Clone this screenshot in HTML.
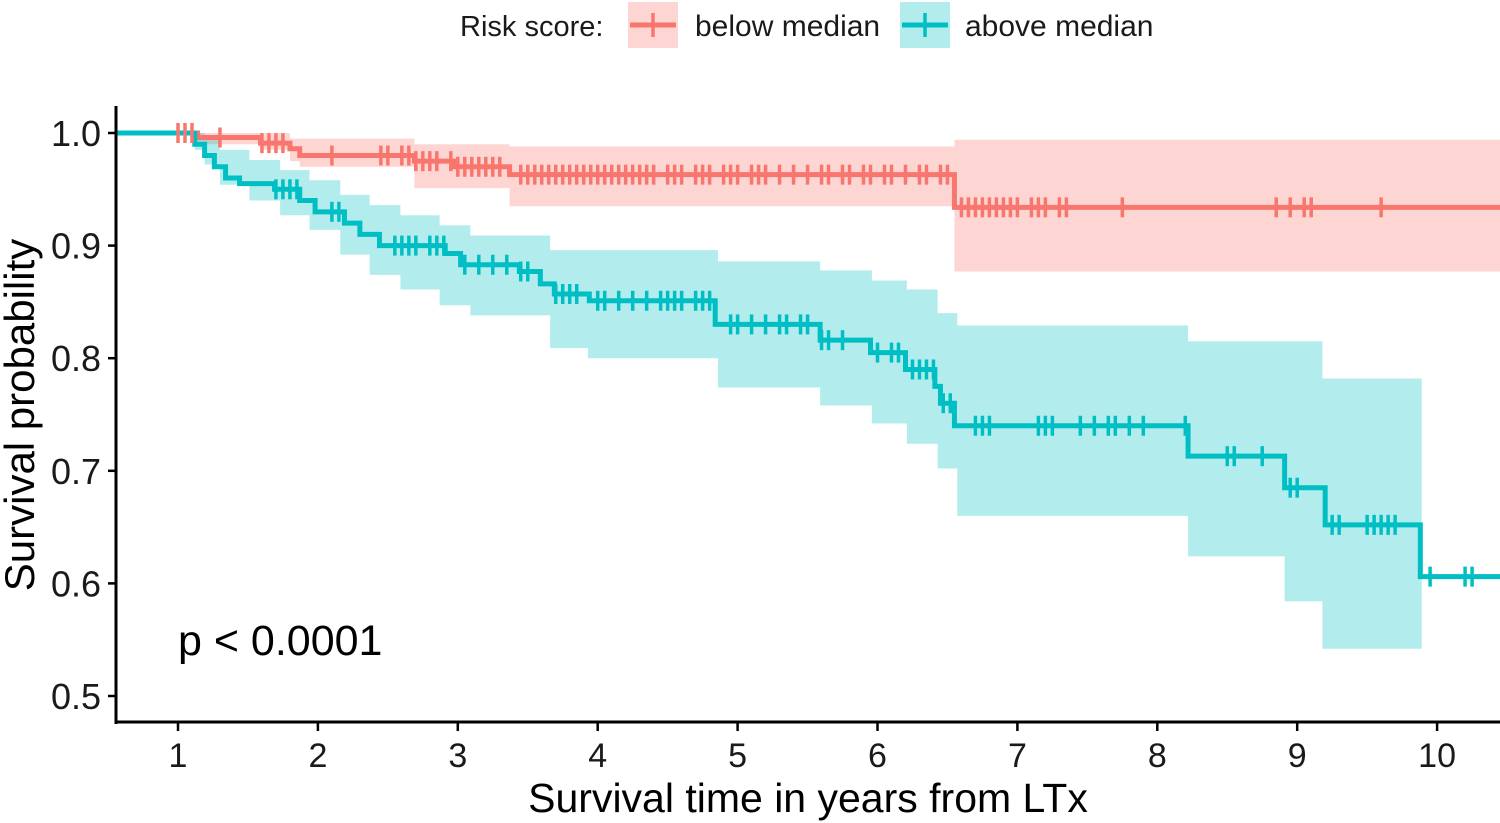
<!DOCTYPE html>
<html><head><meta charset="utf-8"><style>
html,body{margin:0;padding:0;background:#fff;}
svg{display:block;font-family:"Liberation Sans",sans-serif;}
</style></head><body>
<svg id="chart" width="1500" height="823" viewBox="0 0 1500 823">
<g id="bands"></g>
<g id="lines"></g>
<g id="axes"></g>
<g id="legend">
  <text x="460" y="36" font-size="29" fill="#1a1a1a">Risk score:</text>
  <g>
    <rect x="628" y="2" width="50" height="46" fill="#F8766D" fill-opacity="0.3"/>
    <line x1="630" y1="25" x2="676" y2="25" stroke="#F8766D" stroke-width="5"/>
    <line x1="653" y1="13" x2="653" y2="37" stroke="#F8766D" stroke-width="3.5"/>
    <text x="695" y="36" font-size="30" fill="#1a1a1a">below median</text>
  </g>
  <g>
    <rect x="900" y="2" width="50" height="46" fill="#00BFC4" fill-opacity="0.3"/>
    <line x1="902" y1="25" x2="948" y2="25" stroke="#00BFC4" stroke-width="5"/>
    <line x1="925" y1="13" x2="925" y2="37" stroke="#00BFC4" stroke-width="3.5"/>
    <text x="965" y="36" font-size="30" fill="#1a1a1a">above median</text>
  </g>
</g>
<text x="178" y="655" font-size="43" fill="#000">p &lt; 0.0001</text>
<text x="808" y="812" font-size="41" text-anchor="middle" fill="#000">Survival time in years from LTx</text>
<text transform="translate(34,415) rotate(-90)" font-size="42" text-anchor="middle" fill="#000">Survival probability</text>
</svg>
<script>
// ---- data ----
const xTicks = [1,2,3,4,5,6,7,8,9,10];
const yTicks = [0.5,0.6,0.7,0.8,0.9,1.0];
const redTimes = [0, 1.14, 1.59, 1.80, 1.87, 2.69, 2.97, 3.37, 6.55];
const redSurv  = [1.0, 0.996, 0.991, 0.986, 0.98, 0.975, 0.97, 0.963, 0.934];
const redCiTimes = [0, 1.14, 1.59, 1.80, 1.87, 2.69, 3.37, 6.55];
const redUpper = [1.0, 1.0, 1.0, 0.995, 0.995, 0.99, 0.988, 0.994];
const redLower = [1.0, 0.99, 0.985, 0.975, 0.97, 0.951, 0.935, 0.877];
const redCensor = [1.0,1.05,1.1,1.3,1.6,1.65,1.7,1.75,2.1,2.45,2.5,2.6,2.65,2.7,2.75,2.8,2.85,2.95,3.0,3.05,3.1,3.15,3.2,3.25,3.3,
  3.45,3.5,3.55,3.6,3.65,3.7,3.75,3.8,3.85,3.9,3.95,4.0,4.05,4.1,4.15,4.2,4.25,4.3,4.35,4.4,4.5,4.55,4.6,4.7,4.75,4.8,4.9,4.95,5.0,5.1,5.15,5.2,5.3,5.4,5.5,5.6,5.65,5.75,5.8,5.9,5.95,6.05,6.1,6.2,6.3,6.35,6.45,6.5,
  6.6,6.65,6.7,6.75,6.8,6.85,6.9,6.95,7.0,7.1,7.15,7.2,7.3,7.35,7.75,8.85,8.95,9.05,9.1,9.6];
const tealTimes = [0,1.12,1.19,1.26,1.34,1.44,1.69,1.87,1.98,2.19,2.30,2.44,2.91,3.02,3.44,3.59,3.69,3.94,4.84,5.59,5.95,6.20,6.41,6.45,6.55,8.22,8.91,9.20,9.88];
const tealSurv  = [1.0,0.99,0.98,0.97,0.96,0.955,0.95,0.94,0.93,0.92,0.91,0.90,0.893,0.883,0.877,0.866,0.857,0.851,0.83,0.816,0.805,0.79,0.775,0.76,0.74,0.713,0.685,0.652,0.606];
const tealCiTimes = [0,1.12,1.19,1.30,1.51,1.73,1.94,2.16,2.37,2.59,2.87,3.09,3.66,3.93,4.86,5.59,5.96,6.21,6.43,6.57,8.22,8.91,9.18,9.89];
const tealUpper = [1.0,1.0,0.994,0.985,0.976,0.967,0.958,0.945,0.936,0.927,0.918,0.909,0.896,0.896,0.886,0.878,0.869,0.861,0.840,0.829,0.815,0.815,0.782,null];
const tealLower = [1.0,0.985,0.972,0.954,0.940,0.927,0.914,0.892,0.874,0.861,0.847,0.838,0.809,0.800,0.774,0.758,0.742,0.724,0.702,0.660,0.624,0.584,0.542,null];
const tealCensor = [1.7,1.75,1.8,1.85,2.1,2.15,2.55,2.6,2.65,2.7,2.8,2.85,2.9,3.05,3.15,3.25,3.35,3.45,3.5,3.7,3.75,3.8,3.85,
  4.0,4.05,4.15,4.25,4.35,4.45,4.5,4.55,4.6,4.7,4.75,4.8,4.95,5.0,5.1,5.2,5.3,5.35,5.45,5.5,5.6,5.65,5.75,6.0,6.1,6.15,6.25,6.3,6.35,6.4,6.47,6.52,
  6.7,6.75,6.8,7.15,7.2,7.25,7.45,7.55,7.65,7.7,7.8,7.9,8.2,8.5,8.55,8.75,8.95,9.0,9.25,9.3,9.5,9.55,9.6,9.65,9.7,9.95,10.2,10.25];
const tMin = 0.557, tMax = 10.45;
// ---- scales ----
const X = t => 178 + (t - 1) * 139.9;
const Y = s => 133 + (1 - s) * 1126;
const NS = "http://www.w3.org/2000/svg";
function mk(tag, attrs, parent){const e=document.createElementNS(NS,tag);for(const k in attrs)e.setAttribute(k,attrs[k]);parent.appendChild(e);return e;}
function survAt(times, vals, t){let v=vals[0];for(let i=0;i<times.length;i++){if(times[i]<=t)v=vals[i];}return v;}
function stepPath(times, vals, end){
  let d = "M"+X(tMin)+","+Y(vals[0]);
  for(let i=1;i<times.length;i++){d+=" H"+X(times[i])+" V"+Y(vals[i]);}
  return d+" H"+X(end);
}
function bandPath(times, up, lo, end){
  const n = up.filter(v=>v!==null).length;
  let top="", bot=[];
  for(let i=0;i<n;i++){
    const x0=X(Math.max(times[i],tMin)), x1=X(i+1<times.length?times[i+1]:end);
    top += (i===0?"M":"L")+x0+","+Y(up[i])+" L"+x1+","+Y(up[i])+" ";
    bot.unshift("L"+x1+","+Y(lo[i])+" L"+x0+","+Y(lo[i]));
  }
  return top+bot.join(" ")+" Z";
}
const bands=document.getElementById('bands'), lines=document.getElementById('lines'), axes=document.getElementById('axes');
const rb = mk('path',{d:bandPath(redCiTimes,redUpper,redLower,tMax),fill:'#F8766D','fill-opacity':0.3},bands);


const tb = mk('path',{d:bandPath(tealCiTimes,tealUpper,tealLower,tMax),fill:'#00BFC4','fill-opacity':0.3},bands);


const rl = mk('path',{d:stepPath(redTimes,redSurv,tMax),fill:'none',stroke:'#F8766D','stroke-width':5},lines);


const tl = mk('path',{d:stepPath(tealTimes,tealSurv,tMax),fill:'none',stroke:'#00BFC4','stroke-width':5},lines);


redCensor.forEach(t=>{const x=X(t),y=Y(survAt(redTimes,redSurv,t));
  const c=mk('line',{x1:x,x2:x,y1:y-10,y2:y+10,stroke:'#F8766D','stroke-width':3.5},lines);
  
  });
tealCensor.forEach(t=>{const x=X(t),y=Y(survAt(tealTimes,tealSurv,t));
  const c=mk('line',{x1:x,x2:x,y1:y-10,y2:y+10,stroke:'#00BFC4','stroke-width':3.5},lines);
  
  });
// axes
const ya=mk('line',{x1:116,x2:116,y1:106,y2:724,stroke:'#000','stroke-width':3},axes);


const xa=mk('line',{x1:115,x2:1500,y1:722,y2:722,stroke:'#000','stroke-width':3},axes);


yTicks.forEach(v=>{const y=Y(v);
  mk('line',{x1:108,x2:116,y1:y,y2:y,stroke:'#000','stroke-width':2.5},axes);
  const tx=mk('text',{x:101,y:y+13,'font-size':36,'text-anchor':'end',fill:'#1a1a1a'},axes);
  tx.textContent=v.toFixed(1);
  
  });
xTicks.forEach(v=>{const x=X(v);
  mk('line',{x1:x,x2:x,y1:722,y2:731,stroke:'#000','stroke-width':2.5},axes);
  const tx=mk('text',{x:x,y:767,'font-size':34,'text-anchor':'middle',fill:'#1a1a1a'},axes);
  tx.textContent=String(v);
  
  });
</script>
</body></html>
